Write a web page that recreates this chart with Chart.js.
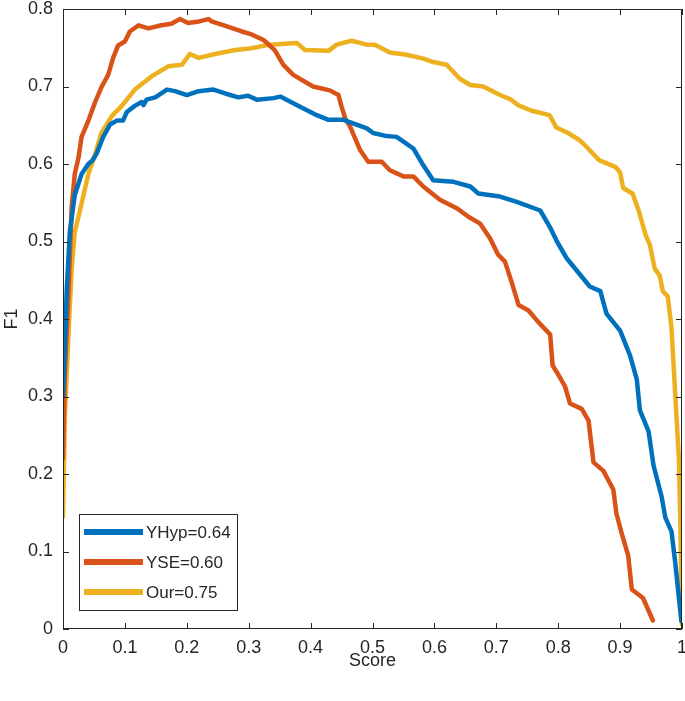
<!DOCTYPE html>
<html>
<head>
<meta charset="utf-8">
<script src="https://cdn.jsdelivr.net/npm/chart.js@4"></script>
<style>
  body { margin: 0; background: #fff; }
  canvas { display: block; }
</style>
</head>
<body>
<canvas id="chart" width="685" height="701"></canvas>
<script>
// tick labels
const xTicks = [0, 0.1, 0.2, 0.3, 0.4, 0.5, 0.6, 0.7, 0.8, 0.9, 1];
const yTicks = [0, 0.1, 0.2, 0.3, 0.4, 0.5, 0.6, 0.7, 0.8];

// YHyp
const yhypScore = [0, 0.003, 0.006, 0.011, 0.019, 0.03, 0.041, 0.048, 0.054, 0.065, 0.076, 0.087, 0.097, 0.103, 0.116, 0.127, 0.13, 0.135, 0.149, 0.168, 0.181, 0.2, 0.219, 0.243, 0.262, 0.283, 0.299, 0.313, 0.34, 0.351, 0.383, 0.41, 0.429, 0.453, 0.491, 0.501, 0.523, 0.539, 0.566, 0.58, 0.598, 0.631, 0.658, 0.671, 0.706, 0.733, 0.771, 0.787, 0.798, 0.814, 0.851, 0.868, 0.878, 0.9, 0.916, 0.927, 0.932, 0.946, 0.954, 0.967, 0.973, 0.983, 0.989, 0.997, 0.999];
const yhypF1 = [0.3, 0.36, 0.437, 0.512, 0.56, 0.587, 0.6, 0.605, 0.613, 0.635, 0.651, 0.656, 0.656, 0.667, 0.675, 0.68, 0.676, 0.683, 0.686, 0.696, 0.694, 0.689, 0.694, 0.696, 0.691, 0.686, 0.688, 0.683, 0.685, 0.687, 0.674, 0.663, 0.657, 0.657, 0.646, 0.64, 0.636, 0.635, 0.62, 0.601, 0.579, 0.577, 0.571, 0.562, 0.558, 0.551, 0.54, 0.518, 0.5, 0.478, 0.442, 0.436, 0.407, 0.385, 0.353, 0.322, 0.282, 0.255, 0.211, 0.171, 0.144, 0.126, 0.086, 0.025, 0.01];

// YSE
const yseScore = [0, 0.003, 0.009, 0.014, 0.019, 0.025, 0.03, 0.041, 0.052, 0.062, 0.073, 0.081, 0.089, 0.1, 0.108, 0.122, 0.138, 0.159, 0.175, 0.189, 0.202, 0.22, 0.235, 0.24, 0.26, 0.278, 0.289, 0.302, 0.324, 0.342, 0.356, 0.372, 0.404, 0.431, 0.445, 0.45, 0.456, 0.464, 0.48, 0.493, 0.515, 0.528, 0.55, 0.566, 0.582, 0.609, 0.636, 0.655, 0.674, 0.69, 0.703, 0.714, 0.725, 0.736, 0.752, 0.768, 0.787, 0.791, 0.798, 0.811, 0.819, 0.838, 0.849, 0.857, 0.873, 0.889, 0.894, 0.903, 0.913, 0.919, 0.937, 0.953];
const yseF1 = [0.22, 0.33, 0.437, 0.544, 0.587, 0.608, 0.635, 0.656, 0.68, 0.699, 0.715, 0.737, 0.753, 0.758, 0.771, 0.779, 0.775, 0.779, 0.781, 0.787, 0.782, 0.784, 0.787, 0.784, 0.779, 0.774, 0.771, 0.768, 0.76, 0.747, 0.728, 0.715, 0.7, 0.695, 0.689, 0.674, 0.659, 0.648, 0.618, 0.603, 0.603, 0.592, 0.584, 0.584, 0.571, 0.554, 0.543, 0.532, 0.523, 0.504, 0.483, 0.474, 0.447, 0.418, 0.411, 0.396, 0.38, 0.34, 0.331, 0.313, 0.291, 0.284, 0.269, 0.215, 0.204, 0.18, 0.149, 0.122, 0.095, 0.051, 0.04, 0.011];

// Our
const ourScore = [0, 0.003, 0.009, 0.014, 0.019, 0.03, 0.041, 0.052, 0.062, 0.079, 0.095, 0.116, 0.143, 0.17, 0.192, 0.205, 0.219, 0.246, 0.278, 0.302, 0.334, 0.378, 0.391, 0.429, 0.442, 0.466, 0.491, 0.504, 0.528, 0.555, 0.582, 0.596, 0.62, 0.641, 0.658, 0.679, 0.706, 0.724, 0.735, 0.756, 0.786, 0.797, 0.816, 0.834, 0.846, 0.866, 0.893, 0.9, 0.905, 0.92, 0.93, 0.941, 0.948, 0.956, 0.964, 0.969, 0.977, 0.983, 0.989, 0.995, 0.997, 1.0];
const ourF1 = [0.145, 0.276, 0.383, 0.464, 0.512, 0.549, 0.587, 0.613, 0.64, 0.662, 0.675, 0.696, 0.713, 0.726, 0.728, 0.742, 0.737, 0.742, 0.747, 0.749, 0.754, 0.756, 0.747, 0.746, 0.754, 0.759, 0.754, 0.754, 0.744, 0.741, 0.736, 0.732, 0.728, 0.71, 0.702, 0.7, 0.689, 0.683, 0.676, 0.669, 0.663, 0.647, 0.64, 0.631, 0.622, 0.605, 0.596, 0.589, 0.569, 0.562, 0.54, 0.509, 0.496, 0.465, 0.456, 0.436, 0.429, 0.389, 0.304, 0.22, 0.149, 0.006];

const seriesNames = ['YHyp=0.64', 'YSE=0.60', 'Our=0.75'];
const seriesColors = ['#0072BD', '#D95319', '#EDB120'];

function pts(xs, ys) {
    return xs.map((x, i) => ({ x: x, y: ys[i] }));
}

const textColor = '#262626';
const font = 'Liberation Sans, Arial, Helvetica, sans-serif';

// box round the axes, inward ticks, legend inside the plot
const matlabAxes = {
    id: 'matlabAxes',
    afterDraw(chart) {
        const ctx = chart.ctx;
        const a = chart.chartArea;
        const xs = chart.scales.x, ys = chart.scales.y;
        ctx.save();
        ctx.strokeStyle = textColor;
        ctx.lineWidth = 1;
        ctx.strokeRect(a.left + 0.5, a.top + 0.5, a.right - a.left - 1, a.bottom - a.top - 1);
        ctx.beginPath();
        xTicks.forEach(v => {
            const px = Math.round(xs.getPixelForValue(v)) + 0.5;
            ctx.moveTo(px, a.bottom); ctx.lineTo(px, a.bottom - 6);
            ctx.moveTo(px, a.top); ctx.lineTo(px, a.top + 6);
        });
        yTicks.forEach(v => {
            const py = Math.round(ys.getPixelForValue(v)) + 0.5;
            ctx.moveTo(a.left, py); ctx.lineTo(a.left + 6, py);
            ctx.moveTo(a.right, py); ctx.lineTo(a.right - 6, py);
        });
        ctx.stroke();

        // legend
        const lx = a.left + 16, ly = a.bottom - 115, lw = 158, lh = 96;
        ctx.fillStyle = '#fff';
        ctx.fillRect(lx, ly, lw, lh);
        ctx.strokeRect(lx + 0.5, ly + 0.5, lw, lh);
        ctx.font = '17px ' + font;
        ctx.textBaseline = 'middle';
        chart.data.datasets.forEach((ds, i) => {
            const y = ly + 18 + i * 30;
            ctx.strokeStyle = ds.borderColor;
            ctx.lineWidth = 6;
            ctx.beginPath();
            ctx.moveTo(lx + 5, y); ctx.lineTo(lx + 64, y);
            ctx.stroke();
            ctx.fillStyle = textColor;
            ctx.fillText(ds.label, lx + 67, y + 1);
        });
        ctx.restore();
    }
};

new Chart(document.getElementById('chart'), {
    type: 'line',
    data: {
        datasets: [
            { label: seriesNames[0], data: pts(yhypScore, yhypF1), borderColor: seriesColors[0] },
            { label: seriesNames[1], data: pts(yseScore, yseF1), borderColor: seriesColors[1] },
            { label: seriesNames[2], data: pts(ourScore, ourF1), borderColor: seriesColors[2] }
        ]
    },
    options: {
        responsive: false,
        animation: false,
        layout: { padding: { top: 9, right: 3, left: 0, bottom: 0 } },
        elements: {
            point: { radius: 0 },
            line: { borderWidth: 4.5, tension: 0, fill: false, borderJoinStyle: 'round', borderCapStyle: 'round' }
        },
        plugins: { legend: { display: false }, tooltip: { enabled: false } },
        scales: {
            x: {
                type: 'linear', min: 0, max: 1,
                afterBuildTicks: s => { s.ticks = xTicks.map(v => ({ value: v })); },
                afterFit: s => { s.height = 72; s.paddingLeft = 0; s.paddingRight = 0; },
                grid: { drawOnChartArea: false, drawTicks: false },
                border: { display: false },
                ticks: { padding: 8, color: textColor, font: { family: font, size: 18 }, maxRotation: 0, callback: v => String(v) },
                title: { display: true, text: 'Score', color: textColor, font: { family: font, size: 18 }, padding: { top: 0, bottom: 29 } }
            },
            y: {
                type: 'linear', min: 0, max: 0.8,
                afterBuildTicks: s => { s.ticks = yTicks.map(v => ({ value: v })); },
                afterFit: s => { s.width = 63; s.paddingTop = 0; s.paddingBottom = 0; },
                grid: { drawOnChartArea: false, drawTicks: false },
                border: { display: false },
                ticks: { padding: 10, color: textColor, font: { family: font, size: 18 }, callback: v => String(v) },
                title: { display: true, text: 'F1', color: textColor, font: { family: font, size: 18 }, padding: { top: 1, bottom: 0 } }
            }
        }
    },
    plugins: [matlabAxes]
});
</script>
</body>
</html>
